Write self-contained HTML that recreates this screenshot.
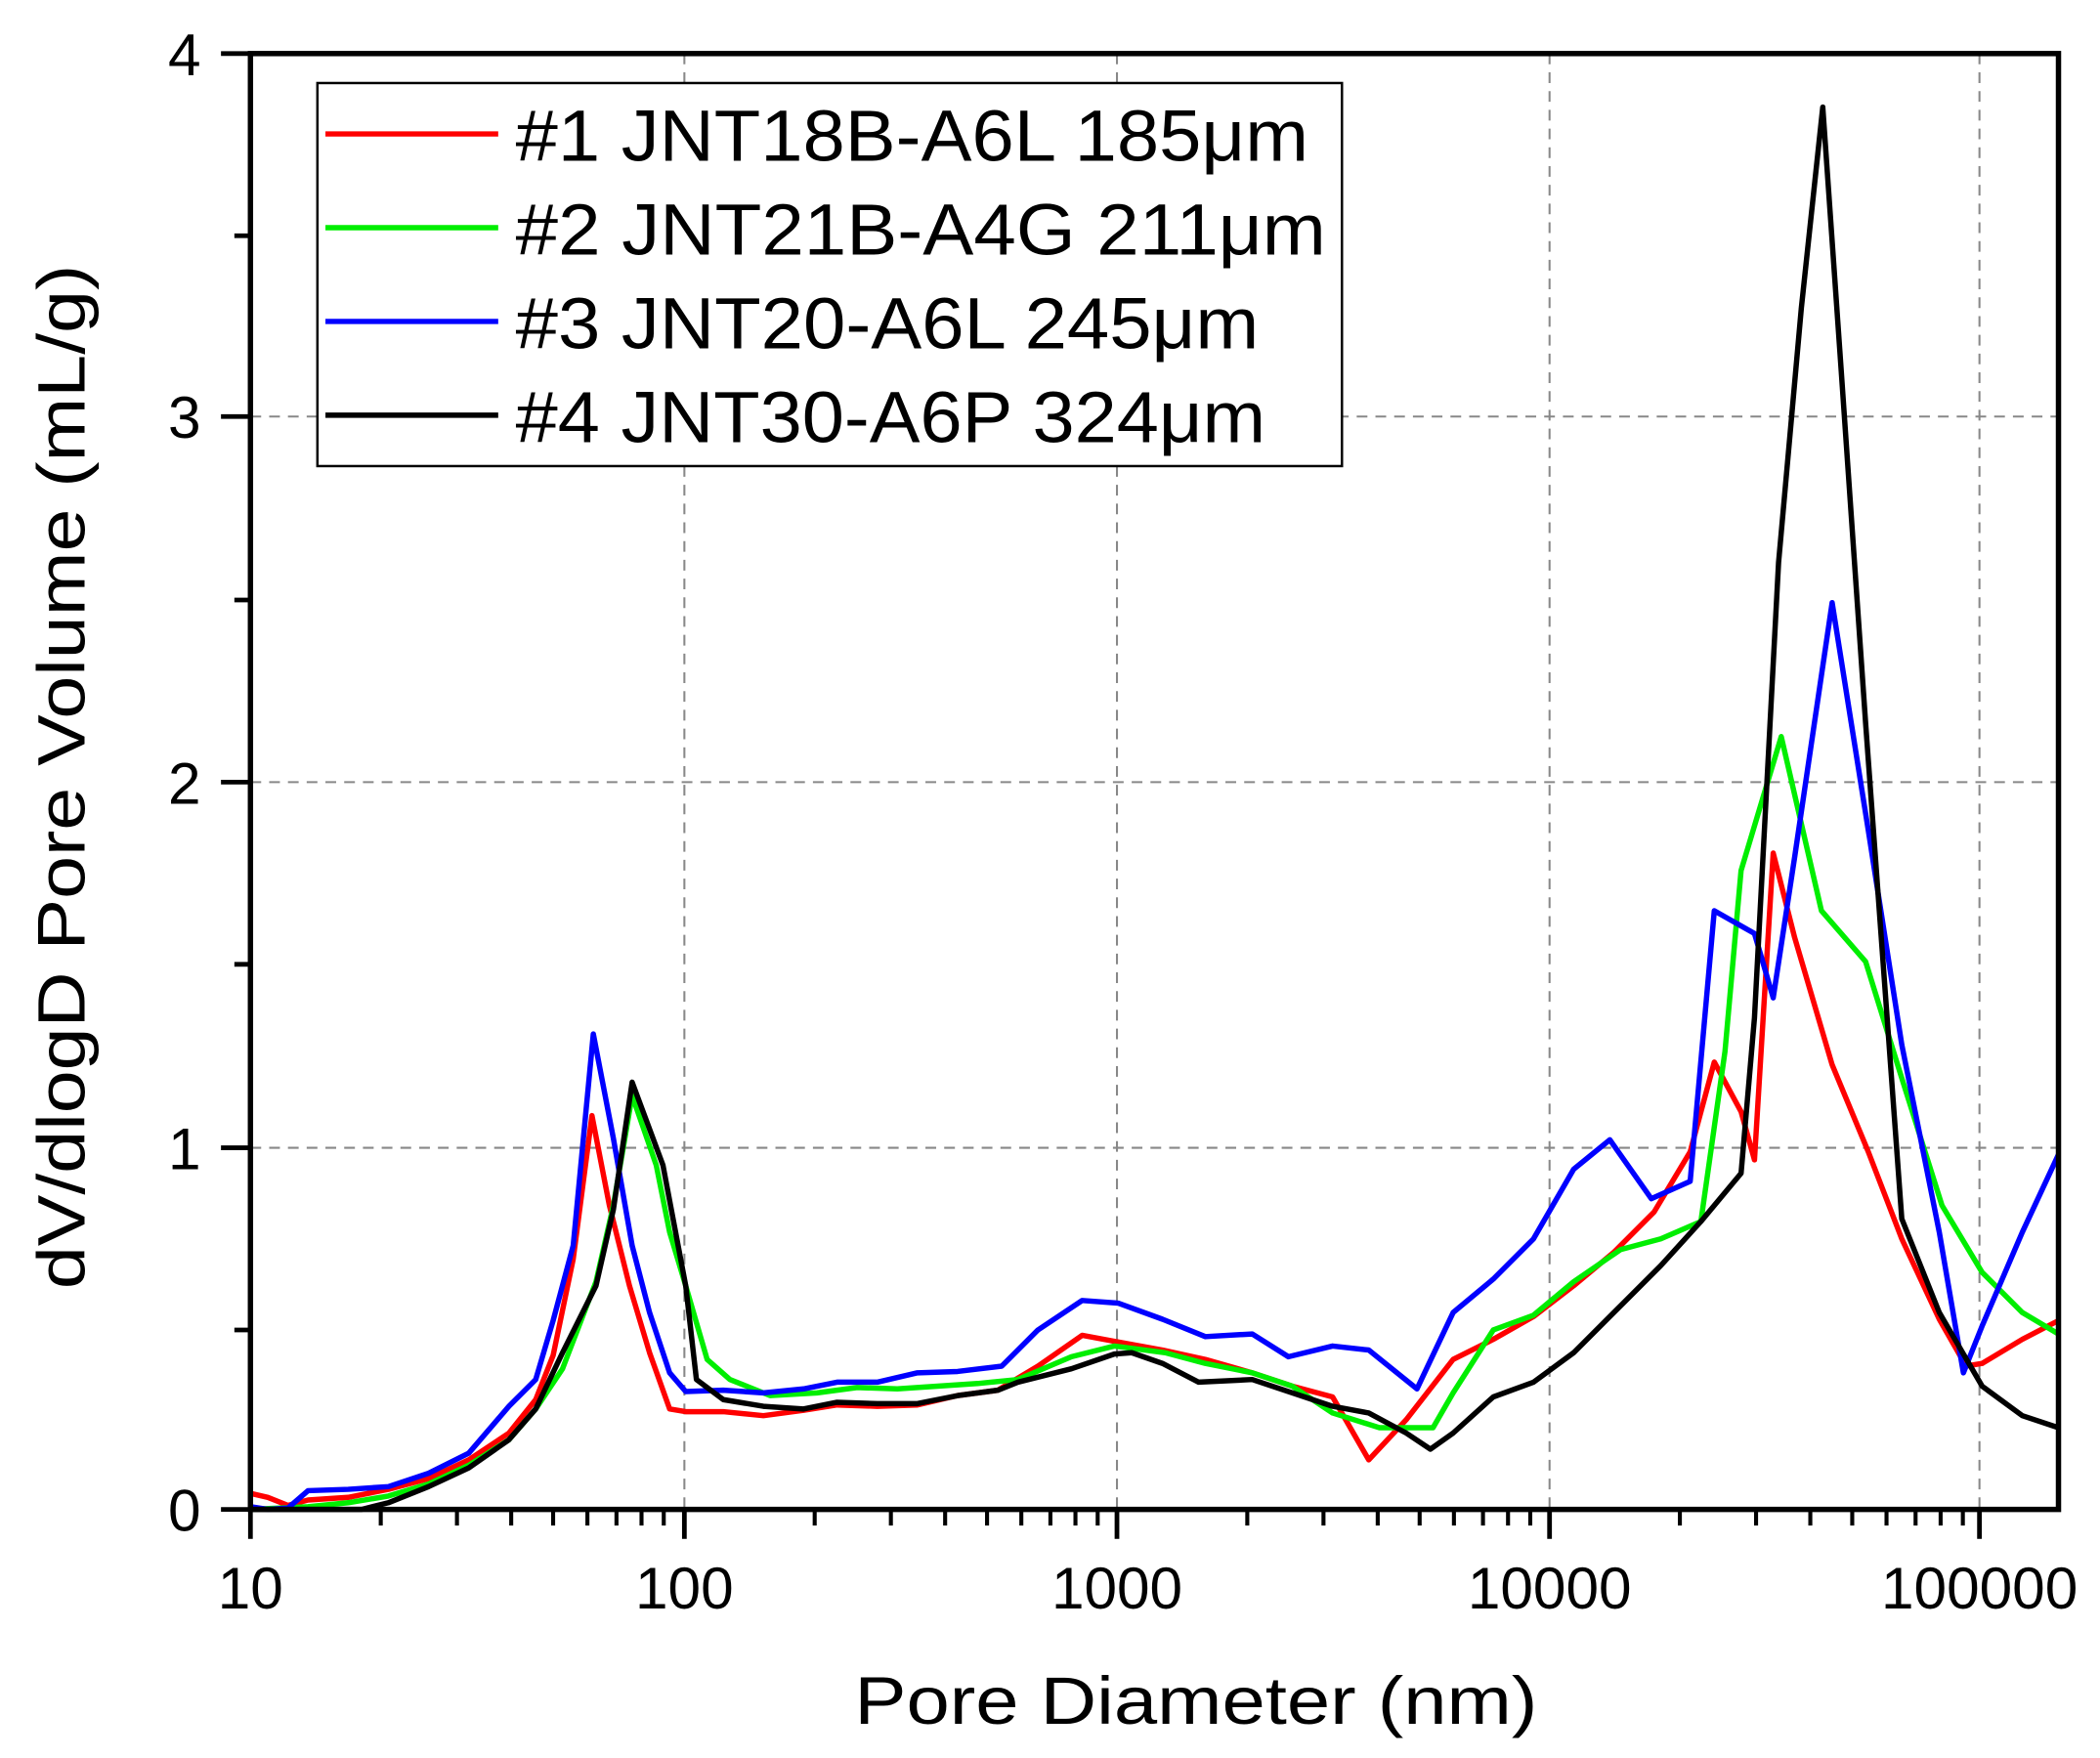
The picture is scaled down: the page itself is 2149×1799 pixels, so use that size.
<!DOCTYPE html>
<html><head><meta charset="utf-8"><style>html,body{margin:0;padding:0;background:#fff}svg{display:block}</style></head>
<body>
<svg width="2149" height="1799" viewBox="0 0 1568 1312.6" preserveAspectRatio="none" xmlns="http://www.w3.org/2000/svg" font-family="Liberation Sans, Arial, sans-serif">
<rect width="1568" height="1313" fill="#fff"/>
<g stroke="#888" stroke-width="1.5" stroke-dasharray="8,6" fill="none">
<line x1="511" y1="40" x2="511" y2="1127"/><line x1="834" y1="40" x2="834" y2="1127"/>
<line x1="1157" y1="40" x2="1157" y2="1127"/><line x1="1478" y1="40" x2="1478" y2="1127"/>
<line x1="187" y1="311" x2="1537" y2="311"/><line x1="187" y1="584" x2="1537" y2="584"/><line x1="187" y1="857" x2="1537" y2="857"/>
</g>
<g fill="none" stroke-width="4" stroke-linejoin="round">
<polyline stroke="#ff0000" points="187,1115 200,1118 215,1124 230,1120 260,1118 290,1112 320,1104 350,1090 380,1070 400,1045 413,1012 428,940 442,833 455,900 470,960 485,1010 500,1052 512,1054 540,1054 570,1057 600,1053 625,1049 655,1050 685,1049 715,1042 745,1038 775,1020 808,997 835,1002 868,1008 900,1015 935,1025 965,1035 995,1043 1022,1090 1050,1060 1085,1015 1115,1000 1145,983 1175,960 1205,935 1235,905 1262,860 1280,793 1300,830 1310,866 1324,637 1340,700 1368,795 1395,860 1420,925 1448,985 1468,1020 1480,1018 1510,1000 1537,986"/>
<polyline stroke="#00ee00" points="187,1127 230,1125 260,1122 290,1117 320,1108 350,1094 380,1075 400,1052 420,1022 445,957 458,900 472,818 490,870 500,920 512,960 528,1015 545,1030 575,1042 610,1040 640,1036 670,1037 700,1035 730,1033 760,1030 800,1013 832,1005 870,1010 900,1018 935,1025 965,1035 995,1055 1030,1066 1070,1066 1085,1040 1115,993 1145,982 1175,957 1210,933 1240,925 1270,912 1288,785 1300,650 1330,550 1360,680 1393,718 1420,805 1450,900 1480,950 1510,980 1537,996"/>
<polyline stroke="#0000ff" points="187,1125 200,1127 215,1126 230,1113 260,1112 290,1110 320,1100 350,1085 380,1050 400,1030 413,986 428,930 443,772 458,850 472,930 485,980 500,1025 512,1039 540,1038 570,1040 600,1037 625,1032 655,1032 685,1025 715,1024 748,1020 775,993 808,971 835,973 868,985 900,998 935,996 962,1013 995,1005 1022,1008 1058,1037 1085,980 1115,955 1145,925 1175,873 1202,851 1233,895 1262,882 1280,680 1310,697 1324,745 1340,640 1368,450 1395,620 1420,780 1448,920 1466,1025 1480,990 1510,920 1537,862"/>
<polyline stroke="#000" points="187,1127 270,1127 290,1122 320,1110 350,1096 380,1075 400,1052 420,1010 445,960 458,903 472,808 495,870 512,960 520,1030 540,1045 570,1050 600,1052 625,1047 655,1048 685,1048 715,1042 745,1038 760,1032 800,1022 832,1011 845,1010 868,1018 895,1032 935,1030 965,1040 995,1050 1022,1055 1050,1070 1068,1082 1085,1070 1115,1043 1145,1032 1175,1010 1210,975 1240,945 1270,912 1300,876 1310,760 1328,420 1345,230 1361,80 1375,280 1393,540 1420,910 1448,980 1480,1035 1510,1057 1537,1066"/>
</g>
<rect x="187" y="40" width="1350" height="1087" fill="none" stroke="#000" stroke-width="4"/>
<g stroke="#000" stroke-width="3.5">
<line x1="187" y1="1127" x2="187" y2="1149"/><line x1="511" y1="1127" x2="511" y2="1149"/><line x1="834" y1="1127" x2="834" y2="1149"/><line x1="1157" y1="1127" x2="1157" y2="1149"/><line x1="1478" y1="1127" x2="1478" y2="1149"/>
<line x1="165" y1="1127" x2="187" y2="1127"/><line x1="165" y1="857" x2="187" y2="857"/><line x1="165" y1="584" x2="187" y2="584"/><line x1="165" y1="311" x2="187" y2="311"/><line x1="165" y1="40" x2="187" y2="40"/>
<line x1="175" y1="993" x2="187" y2="993"/><line x1="175" y1="720" x2="187" y2="720"/><line x1="175" y1="448" x2="187" y2="448"/><line x1="175" y1="176" x2="187" y2="176"/>
</g>
<g stroke="#000" stroke-width="3">
<path d="M284.3,1127v12M341.2,1127v12M381.7,1127v12M413,1127v12M438.6,1127v12M460.3,1127v12M479,1127v12M495.6,1127v12
M608.3,1127v12M665.2,1127v12M705.7,1127v12M737,1127v12M762.6,1127v12M784.3,1127v12M803,1127v12M819.6,1127v12
M931.3,1127v12M988.2,1127v12M1028.7,1127v12M1060,1127v12M1085.6,1127v12M1107.3,1127v12M1126,1127v12M1142.6,1127v12
M1254.3,1127v12M1311.2,1127v12M1351.7,1127v12M1383,1127v12M1408.6,1127v12M1430.3,1127v12M1449,1127v12M1465.6,1127v12"/>
</g>
<g font-size="44" fill="#000">
<text x="187" y="1201" text-anchor="middle">10</text>
<text x="511" y="1201" text-anchor="middle">100</text>
<text x="834" y="1201" text-anchor="middle">1000</text>
<text x="1157" y="1201" text-anchor="middle">10000</text>
<text x="1478" y="1201" text-anchor="middle">100000</text>
<text x="150" y="1143" text-anchor="end">0</text>
<text x="150" y="873" text-anchor="end">1</text>
<text x="150" y="600" text-anchor="end">2</text>
<text x="150" y="327" text-anchor="end">3</text>
<text x="150" y="56" text-anchor="end">4</text>
</g>
<text x="893" y="1287" font-size="50" text-anchor="middle" textLength="510" lengthAdjust="spacingAndGlyphs">Pore Diameter  (nm)</text>
<text transform="translate(63,580) rotate(-90)" font-size="50" text-anchor="middle" textLength="765" lengthAdjust="spacingAndGlyphs">dV/dlogD Pore Volume  (mL/g)</text>
<rect x="237" y="62" width="765" height="286" fill="#fff" stroke="#000" stroke-width="1.8"/>
<g stroke-width="4">
<line x1="243" y1="100" x2="372" y2="100" stroke="#ff0000"/>
<line x1="243" y1="170" x2="372" y2="170" stroke="#00ee00"/>
<line x1="243" y1="240" x2="372" y2="240" stroke="#0000ff"/>
<line x1="243" y1="310" x2="372" y2="310" stroke="#000"/>
</g>
<g font-size="54" fill="#000">
<text x="385" y="120" textLength="592" lengthAdjust="spacingAndGlyphs">#1 JNT18B-A6L 185μm</text>
<text x="385" y="190" textLength="605" lengthAdjust="spacingAndGlyphs">#2 JNT21B-A4G 211μm</text>
<text x="385" y="260" textLength="555" lengthAdjust="spacingAndGlyphs">#3 JNT20-A6L 245μm</text>
<text x="385" y="330" textLength="560" lengthAdjust="spacingAndGlyphs">#4 JNT30-A6P 324μm</text>
</g>
</svg>
</body></html>
